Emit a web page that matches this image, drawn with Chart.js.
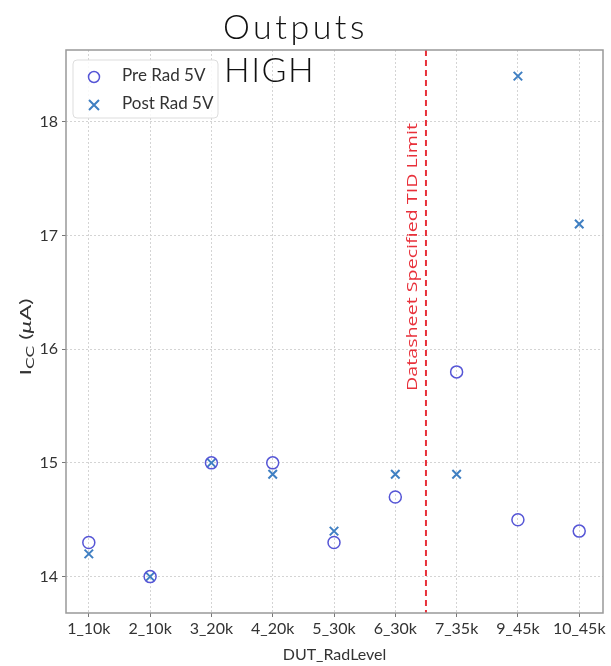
<!DOCTYPE html>
<html>
<head>
<meta charset="utf-8">
<script src="https://cdn.jsdelivr.net/npm/chart.js@4"></script>
<style>
  html, body { margin: 0; padding: 0; background: #fff; }
</style>
</head>
<body>
<canvas id="chart" width="611" height="666"></canvas>
<script>
// data
const categories = ['1_10k', '2_10k', '3_20k', '4_20k', '5_30k', '6_30k', '7_35k', '9_45k', '10_45k'];
const preRad = [14.3, 14.0, 15.0, 15.0, 14.3, 14.7, 15.8, 14.5, 14.4];
const postRad = [14.2, 14.0, 15.0, 14.9, 14.4, 14.9, 14.9, 18.4, 17.1];
const yTicks = [14, 15, 16, 17, 18];
const tidLimit = 5.5; // between 6_30k and 7_35k

const PRE_COLOR = '#5656d6';
const POST_COLOR = '#3f7fc2';
const TXT = '#333';

// vertical text in the reference is stretched along its length
function stretchTo(ctx, width, target) {
    ctx.scale(target / width, 1);
}

// frame, limit line, labels, legend, title
const decorations = {
    id: 'decorations',
    afterDatasetsDraw(chart) {
        const { ctx, chartArea: a } = chart;
        const xs = chart.scales.x;

        // TID limit line
        const lx = xs.getPixelForValue(tidLimit);
        ctx.save();
        ctx.strokeStyle = '#e8303a';
        ctx.lineWidth = 2;
        ctx.setLineDash([6, 4]);
        ctx.beginPath();
        ctx.moveTo(lx, a.top);
        ctx.lineTo(lx, a.bottom);
        ctx.stroke();
        ctx.restore();

        const label = 'Datasheet Specified TID Limit';
        ctx.save();
        ctx.translate(lx - 13, 257);
        ctx.rotate(-Math.PI / 2);
        ctx.fillStyle = '#e8303a';
        ctx.font = '15px "Open Sans"';
        stretchTo(ctx, ctx.measureText(label).width, 268);
        ctx.textAlign = 'center';
        ctx.textBaseline = 'middle';
        ctx.fillText(label, 0, 0);
        ctx.restore();
    },
    afterDraw(chart) {
        const { ctx, chartArea: a } = chart;

        // plot frame
        ctx.save();
        ctx.strokeStyle = '#999';
        ctx.lineWidth = 1.5;
        ctx.strokeRect(a.left, a.top, a.right - a.left, a.bottom - a.top);
        ctx.restore();

        // y axis title  I_CC (μA)
        ctx.save();
        ctx.translate(26, 337);
        ctx.rotate(-Math.PI / 2);
        ctx.fillStyle = TXT;
        ctx.textBaseline = 'middle';
        const big = '16px Lato', small = '12px Lato', ital = 'italic 16px Lato';
        const parts = [
            ['I', big, 0], ['CC', small, 4], [' (', big, 0], ['\u03bc', ital, 0], ['A)', big, 0]
        ];
        let w = 0;
        parts.forEach(p => { ctx.font = p[1]; w += ctx.measureText(p[0]).width; });
        stretchTo(ctx, w, 77);
        let px = -w / 2;
        parts.forEach(p => {
            ctx.font = p[1];
            ctx.fillText(p[0], px, p[2]);
            px += ctx.measureText(p[0]).width;
        });
        ctx.restore();

        // legend box
        ctx.save();
        const bx = 73, by = 60, bw = 145, bh = 58;
        ctx.fillStyle = 'rgba(255,255,255,0.85)';
        ctx.strokeStyle = '#ddd';
        ctx.lineWidth = 1;
        ctx.beginPath();
        ctx.roundRect(bx, by, bw, bh, 4);
        ctx.fill();
        ctx.stroke();

        ctx.lineWidth = 1.5;
        ctx.strokeStyle = PRE_COLOR;
        ctx.beginPath();
        ctx.arc(94, 77, 5.5, 0, Math.PI * 2);
        ctx.stroke();

        ctx.lineWidth = 2;
        ctx.strokeStyle = POST_COLOR;
        ctx.beginPath();
        ctx.moveTo(89, 100); ctx.lineTo(99, 110);
        ctx.moveTo(99, 100); ctx.lineTo(89, 110);
        ctx.stroke();

        ctx.fillStyle = TXT;
        ctx.font = '17px Lato';
        ctx.textBaseline = 'middle';
        ctx.fillText(chart.data.datasets[0].label, 122, 76);
        ctx.fillText(chart.data.datasets[1].label, 122, 104);
        ctx.restore();

        // title
        ctx.save();
        ctx.fillStyle = '#111';
        ctx.font = '300 34px Lato';
        ctx.textBaseline = 'alphabetic';
        ctx.letterSpacing = '3.5px';
        ctx.fillText('Outputs', 223, 39);
        ctx.letterSpacing = '1.5px';
        ctx.fillText('HIGH', 224, 82);
        ctx.restore();
    }
};

new Chart(document.getElementById('chart'), {
    type: 'scatter',
    data: {
        datasets: [{
            label: 'Pre Rad 5V',
            data: preRad.map((v, i) => ({ x: i, y: v })),
            pointStyle: 'circle',
            pointRadius: 6,
            pointHoverRadius: 6,
            borderColor: PRE_COLOR,
            backgroundColor: 'rgba(0,0,0,0)',
            borderWidth: 1.5
        }, {
            label: 'Post Rad 5V',
            data: postRad.map((v, i) => ({ x: i, y: v })),
            pointStyle: 'crossRot',
            pointRadius: 6,
            pointHoverRadius: 6,
            borderColor: POST_COLOR,
            backgroundColor: POST_COLOR,
            borderWidth: 2
        }]
    },
    options: {
        responsive: false,
        animation: false,
        layout: { padding: { top: 50, right: 1, left: 0, bottom: 0 } },
        plugins: {
            legend: { display: false },
            tooltip: { enabled: false }
        },
        scales: {
            x: {
                type: 'linear',
                min: -0.372,
                max: 8.388,
                afterBuildTicks: scale => { scale.ticks = categories.map((c, i) => ({ value: i })); },
                afterFit: scale => {
                    scale.height = 53;
                    scale.paddingLeft = 0;
                    scale.paddingRight = 0;
                },
                ticks: {
                    callback: v => categories[v],
                    color: TXT,
                    font: { family: 'Lato', size: 16 },
                    padding: 2,
                    maxRotation: 0,
                    autoSkip: false
                },
                grid: { color: '#d4d4d4', tickColor: '#777', tickLength: 4, tickBorderDash: [] },
                border: { display: false, dash: [2, 2] },
                title: {
                    display: true,
                    text: 'DUT_RadLevel',
                    color: TXT,
                    font: { family: 'Lato', size: 16 },
                    padding: { top: 0, bottom: 2 }
                }
            },
            y: {
                min: 13.68,
                max: 18.63,
                afterBuildTicks: scale => { scale.ticks = yTicks.map(v => ({ value: v })); },
                afterFit: scale => { scale.width = 66; },
                ticks: {
                    color: TXT,
                    font: { family: 'Lato', size: 16 },
                    padding: 4
                },
                grid: { color: '#d4d4d4', tickColor: '#777', tickLength: 4, tickBorderDash: [] },
                border: { display: false, dash: [2, 2] }
            }
        }
    },
    plugins: [decorations]
});
</script>
</body>
</html>
